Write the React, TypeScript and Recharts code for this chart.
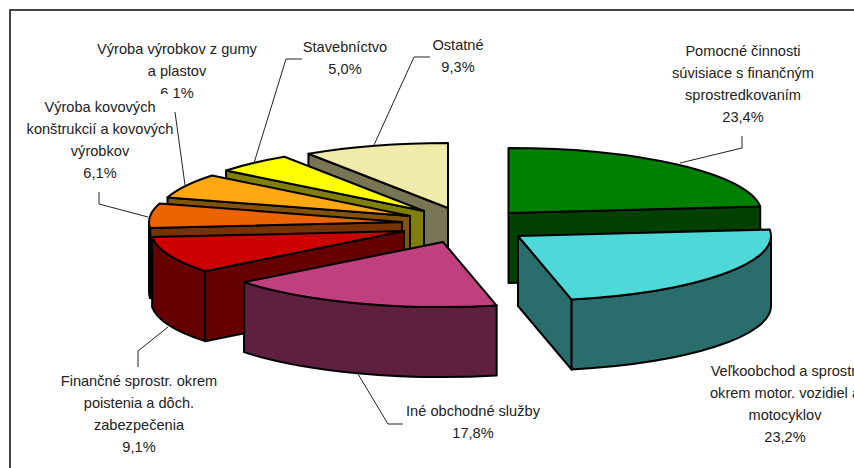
import React from "react";
import { PieChart, Pie } from "recharts";

// Listed from the back of the drawing to the front, running counter-clockwise from the green slice.
const categories: string[][] = [
  ["Pomocné činnosti", "súvisiace s finančným", "sprostredkovaním"],
  ["Ostatné"],
  ["Stavebníctvo"],
  ["Výroba výrobkov z gumy", "a plastov"],
  ["Výroba kovových", "konštrukcií a kovových", "výrobkov"],
  ["Finančné sprostr. okrem", "poistenia a dôch.", "zabezpečenia"],
  ["Iné obchodné služby"],
  ["Veľkoobchod a sprostr.", "okrem motor. vozidiel a", "motocyklov"],
];
const shares: number[] = [23.4, 9.3, 5.0, 6.1, 6.1, 9.1, 17.8, 23.2];

const topColors = ["#008000", "#F0EBAA", "#FFFF00", "#FFA812", "#EC6400", "#CC0000", "#BF3F7F", "#4FD8D8"];
const wallColors = ["#004000", "#787555", "#808000", "#7F5409", "#763200", "#660000", "#5F1F3F", "#2A6D6D"];

// Explosion of each slice away from the pie centre, in px.
const explodeX = [55.5, -5, -29, -43, -51, -49, -10, 65];
const explodeY = [-9, -14, -11, -6, 0, 9, 20, 14];

// Label placement: centre x, first baseline y, leader polyline.
const labelX = [743, 458, 345, 177, 100, 139, 473, 785];
const labelY = [56, 50, 52, 54, 112, 386, 416, 376];
const leaders: number[][][] = [
  [[742, 136], [742, 148], [680, 163]],
  [[430, 57], [414, 57], [374, 145]],
  [[302, 59], [286, 59], [254, 163]],
  [[175, 112], [185, 185]],
  [[99, 192], [99, 204], [148, 217]],
  [[138, 367], [138, 351], [168, 327]],
  [[403, 424], [388, 424], [358, 374]],
  [],
];

const chartData = categories.map((lines, i) => ({ name: lines.join(" "), value: shares[i] }));

const SQUASH = 65 / 253;
const DEPTH = 70;
const FONT = "'Liberation Sans', Arial, sans-serif";

function Slice3D(props: any) {
  const { cx, cy, outerRadius, startAngle, endAngle, index } = props;
  // clockwise-from-top angles
  const a0 = 90 - Math.max(startAngle, endAngle) + 360;
  const a1 = 90 - Math.min(startAngle, endAngle) + 360;
  const from = a0 % 360;
  const to = from + (a1 - a0);
  const ox = cx + explodeX[index];
  const oy = cy + explodeY[index];
  const rx = outerRadius;
  const ry = outerRadius * SQUASH;
  const pt = (deg: number, drop = 0): [number, number] => {
    const r = (deg * Math.PI) / 180;
    return [ox + rx * Math.sin(r), oy - ry * Math.cos(r) + drop];
  };
  const stroke = { stroke: "#000", strokeWidth: 2, strokeLinejoin: "round" as const };
  const wall = wallColors[index];
  const radialWall = (deg: number) => {
    const p = pt(deg);
    return `M${ox},${oy} L${p[0]},${p[1]} L${p[0]},${p[1] + DEPTH} L${ox},${oy + DEPTH} Z`;
  };
  const parts: string[] = [];
  const sinS = Math.sin((from * Math.PI) / 180);
  const sinE = Math.sin((to * Math.PI) / 180);
  if (sinS < -1e-6) parts.push(radialWall(from));
  if (sinE > 1e-6) parts.push(radialWall(to));
  const w0 = Math.max(from, 90);
  const w1 = Math.min(to, 270);
  let rim: string | null = null;
  if (w1 > w0) {
    const a = pt(w0);
    const b = pt(w1);
    rim = `M${a[0]},${a[1]} A${rx},${ry} 0 0 1 ${b[0]},${b[1]} L${b[0]},${b[1] + DEPTH} A${rx},${ry} 0 0 0 ${a[0]},${a[1] + DEPTH} Z`;
  }
  const s = pt(from);
  const e = pt(to);
  const large = to - from > 180 ? 1 : 0;
  const top = `M${ox},${oy} L${s[0]},${s[1]} A${rx},${ry} 0 ${large} 1 ${e[0]},${e[1]} Z`;
  return (
    <g>
      {parts.map((d, i) => (
        <path key={i} d={d} fill={wall} {...stroke} />
      ))}
      {rim && <path d={rim} fill={wall} {...stroke} />}
      <path d={top} fill={topColors[index]} {...stroke} />
    </g>
  );
}

function SliceLabel(props: any) {
  const { index } = props;
  const lines = [...categories[index], shares[index].toFixed(1).replace(".", ",") + "%"];
  const pts = leaders[index];
  return (
    <g>
      {index === 4 && <rect x={24} y={94} width={149} height={88} fill="#fff" />}
      {pts.length > 0 && (
        <polyline points={pts.map((p) => p.join(",")).join(" ")} fill="none" stroke="#222" strokeWidth={1} />
      )}
      {lines.map((t, i) => (
        <text
          key={i}
          x={labelX[index]}
          y={labelY[index] + i * 22}
          textAnchor="middle"
          fontFamily={FONT}
          fontSize={14.6}
          fill="#222"
        >
          {t}
        </text>
      ))}
    </g>
  );
}

export default function App() {
  return (
    <div style={{ position: "absolute", left: 0, top: 0, width: 854, height: 468, background: "#fff", overflow: "hidden" }}>
      <div
        style={{
          position: "absolute",
          left: 9,
          top: 9,
          width: 900,
          height: 500,
          borderLeft: "2px solid #444",
          borderTop: "2px solid #444",
        }}
      />
      <div style={{ position: "absolute", left: 0, top: 0 }}>
        <PieChart width={854} height={468} margin={{ top: 0, right: 0, bottom: 0, left: 0 }}>
          <Pie
            data={chartData}
            dataKey="value"
            nameKey="name"
            cx={453}
            cy={222}
            innerRadius={0}
            outerRadius={253}
            startAngle={5.76}
            endAngle={365.76}
            paddingAngle={0}
            isAnimationActive={false}
            shape={Slice3D}
            label={SliceLabel}
            labelLine={false}
          />
        </PieChart>
      </div>
    </div>
  );
}
